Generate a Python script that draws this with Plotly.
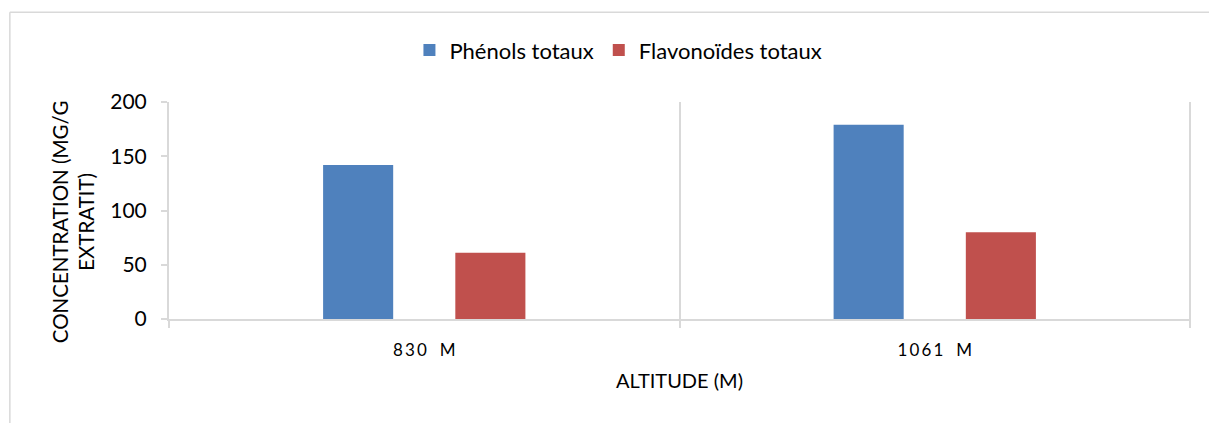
import plotly.graph_objects as go

# Altitude categories and measured concentrations (mg/g extract)
altitudes = ["8\u20093\u20090\u2002 M", "1\u20090\u20096\u20091\u2002 M"]
phenols = [142, 179]
flavonoides = [61, 80]
series_names = ["Phénols totaux", "Flavonoïdes totaux"]
y_ticks = [0, 50, 100, 150, 200]

FONT = "Lato"
GRID = "#d9d9d9"
PLOT_W = 1020
PLOT_H = 217.5

fig = go.Figure()
fig.add_trace(go.Bar(x=altitudes, y=phenols, name=series_names[0],
                     marker=dict(color="#4f81bd", line=dict(width=0))))
fig.add_trace(go.Bar(x=altitudes, y=flavonoides, name=series_names[1],
                     marker=dict(color="#c0504d", line=dict(width=0))))

# outer chart frame: left and top edges (the rest lies beyond the page)
frame_x = -159 / PLOT_W
frame_top = 1 + 90 / PLOT_H
fig.add_shape(type="line", xref="paper", yref="paper",
              x0=frame_x, x1=frame_x, y0=-0.6, y1=frame_top,
              line=dict(color=GRID, width=1.5), layer="below")
fig.add_shape(type="line", xref="paper", yref="paper",
              x0=frame_x, x1=1.1, y0=frame_top, y1=frame_top,
              line=dict(color=GRID, width=1.5), layer="below")
# closing category boundary on the right of the plot area
fig.add_shape(type="line", xref="paper", yref="paper",
              x0=1, x1=1, y0=-7 / PLOT_H, y1=1,
              line=dict(color=GRID, width=2), layer="below")

# vertical axis title, sitting slightly below the plot's mid-height
fig.add_annotation(text="CONCENTRATION (MG/G<br>EXTRATIT)", textangle=-90,
                   xref="paper", yref="paper", x=-96 / PLOT_W, y=0.45,
                   xanchor="center", yanchor="middle", showarrow=False,
                   font=dict(size=20.5, family=FONT, color="#000000"))

fig.update_layout(
    width=1209, height=423,
    margin=dict(l=169, r=19, t=102, b=103.5),
    paper_bgcolor="white", plot_bgcolor="white",
    barmode="group", bargap=0.482, bargroupgap=0.47,
    font=dict(family=FONT, color="#000000", size=17),
    legend=dict(orientation="h", x=(618 - 169) / PLOT_W, xanchor="center",
                y=1 + 52 / PLOT_H, yanchor="middle",
                font=dict(size=22, family=FONT), itemwidth=30,
                traceorder="normal"),
    xaxis=dict(type="category", tickson="boundaries", showgrid=True,
               gridcolor=GRID, gridwidth=2, showline=True, linecolor=GRID,
               linewidth=2, ticks="outside", ticklen=7, tickcolor=GRID,
               tickwidth=2, tickfont=dict(size=17, family=FONT),
               ticklabelstandoff=15,
               title=dict(text="ALTITUDE (M)", font=dict(size=20, family=FONT),
                          standoff=15)),
    yaxis=dict(range=[0, 200], tickvals=y_ticks, showgrid=False,
               showline=True, linecolor=GRID, linewidth=2, ticks="outside",
               ticklen=6, tickcolor=GRID, tickwidth=2, zeroline=False,
               tickfont=dict(size=21, family=FONT), ticklabelstandoff=10),
)

fig.write_html("out.html")
